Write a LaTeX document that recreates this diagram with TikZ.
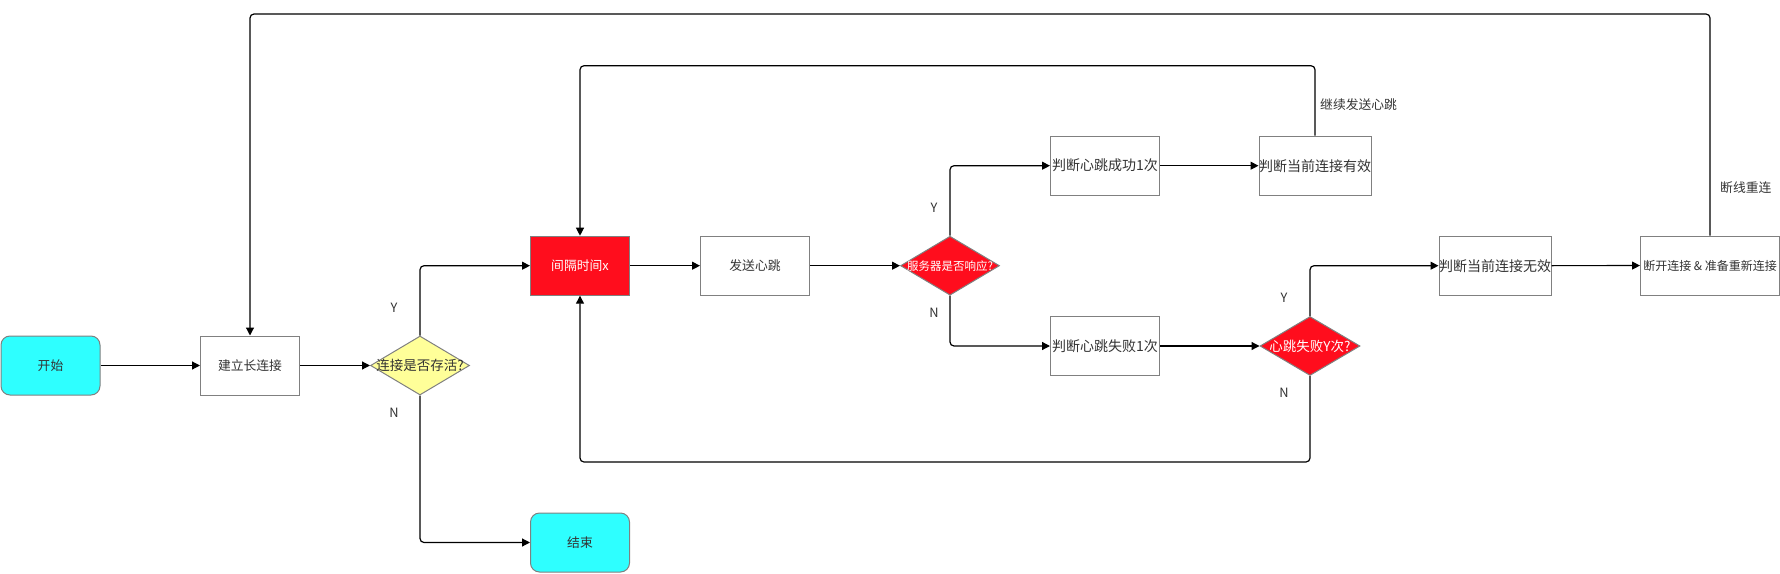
\documentclass[tikz,border=0pt]{standalone}
\usepackage{fontspec}
\setmainfont{Noto Sans CJK SC}
\usetikzlibrary{arrows.meta,shapes.geometric}

\definecolor{terminalcyan}{HTML}{2EFFFF}
\definecolor{alertred}{HTML}{FF0D1D}
\definecolor{checkyellow}{HTML}{FFFF99}
\definecolor{boxborder}{HTML}{808080}
\definecolor{labeltext}{HTML}{333333}

\begin{document}
\begin{tikzpicture}[
  x=1pt,
  y=-1pt,
  font=\fontsize{12.8pt}{15pt}\selectfont,
  box/.style={draw=boxborder,line width=1pt,fill=white,text=labeltext,minimum width=109pt,minimum height=59pt,inner sep=0pt},
  bigbox/.style={box,font=\fontsize{14pt}{17pt}\selectfont},
  terminal/.style={box,fill=terminalcyan,rounded corners=9pt,minimum width=99pt},
  redbox/.style={box,fill=alertred,text=white,minimum width=99pt},
  check/.style={diamond,draw=boxborder,line width=1pt,fill=checkyellow,text=labeltext,inner sep=0pt,minimum width=99pt,minimum height=59pt},
  redcheck/.style={check,fill=alertred,text=white},
  flow/.style={draw=black,line width=1.2pt,rounded corners=4pt,-{Triangle[length=8pt,width=8pt]}},
  branch/.style={text=labeltext,inner sep=0pt}
]
  % Keep the frame of the original drawing.
  \useasboundingbox (0,0) rectangle (1780,573);

  % Heights of the three loop-back lines.
  \coordinate (outerTop) at (0,14);
  \coordinate (innerTop) at (0,65.7);
  \coordinate (innerBottom) at (0,462);

  % Main path from start to the heartbeat check.
  \node[terminal] (start) at (50.5,365.5) {开始};
  \node[box,minimum width=99pt] (build) at (250,365.5) {建立长连接};
  \node[check,font=\fontsize{13.5pt}{16pt}\selectfont] (alive) at (420,365.5) {\makebox[0pt]{连接是否存活?}};
  \node[redbox] (wait) at (580,265.7) {间隔时间x};
  \node[box] (send) at (755,265.7) {发送心跳};
  \node[redcheck,font=\fontsize{11.5pt}{13pt}\selectfont] (respond) at (950,265.7) {\makebox[0pt]{服务器是否响应?}};
  \node[terminal] (finish) at (580,542.5) {结束};

  % Success and failure branches.
  \node[bigbox] (okOnce) at (1105,165.7) {判断心跳成功1次};
  \node[bigbox] (valid) at (1315,165.7) {判断当前连接有效};
  \node[bigbox] (failOnce) at (1105,346) {判断心跳失败1次};
  \node[redcheck,minimum width=100pt,font=\fontsize{13.5pt}{16pt}\selectfont] (failY) at (1310,346) {\makebox[0pt]{心跳失败Y次?}};
  \node[bigbox] (invalid) at (1495,265.7) {判断当前连接无效};
  \node[box,minimum width=139pt,font=\fontsize{12pt}{14pt}\selectfont] (reconnect) at (1710,265.5) {断开连接 \& 准备重新连接};

  \draw[flow] (start) -- (build);
  \draw[flow] (build) -- (alive);
  \draw[flow] (alive.north) |- (wait.west);
  \draw[flow] (alive.south) |- (finish.west);
  \draw[flow] (wait) -- (send);
  \draw[flow] (send) -- (respond);
  \draw[flow] (respond.north) |- (okOnce.west);
  \draw[flow] (respond.south) |- (failOnce.west);
  \draw[flow] (okOnce) -- (valid);
  \draw[flow] (failOnce) -- (failY);
  \draw[flow] (failY.north) |- (invalid.west);
  \draw[flow] (invalid) -- (reconnect);

  % Loop-back lines.
  \draw[flow] (valid.north) -- (valid.north |- innerTop) -| (wait.north);
  \draw[flow] (failY.south) -- (failY.south |- innerBottom) -| (wait.south);
  \draw[flow] (reconnect.north) -- (reconnect.north |- outerTop) -| (build.north);

  % Branch labels.
  \node[branch] (aliveYes) at (394,307.6) {Y};
  \node[branch] (aliveNo) at (394,413) {N};
  \node[branch] (respondYes) at (934,208) {Y};
  \node[branch] (respondNo) at (934,313) {N};
  \node[branch] (failYes) at (1284,297.4) {Y};
  \node[branch] (failNo) at (1284,392.5) {N};
  \node[branch,anchor=west] (keepLabel) at (1320,105) {继续发送心跳};
  \node[branch,anchor=west] (redialLabel) at (1720,187.7) {断线重连};
\end{tikzpicture}
\end{document}
